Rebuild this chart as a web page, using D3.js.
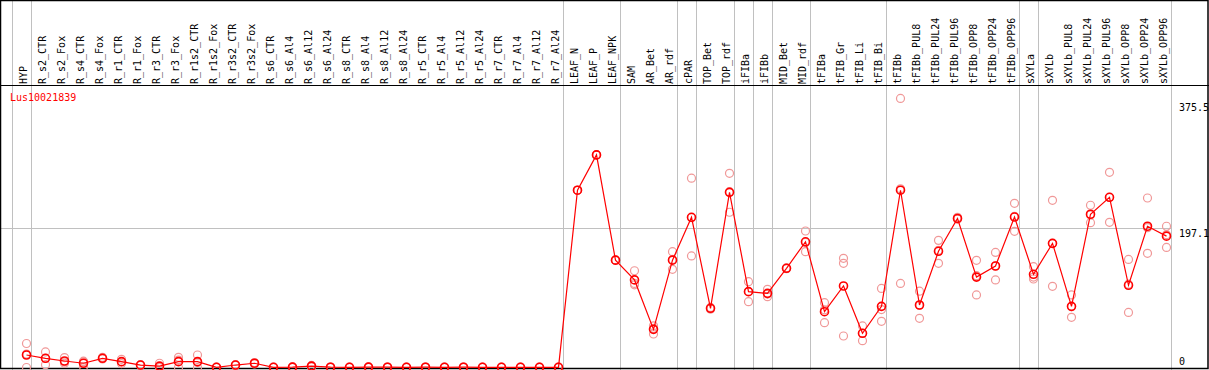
<!DOCTYPE html>
<html>
<head>
<meta charset="utf-8">
<script src="https://cdn.jsdelivr.net/npm/d3@7"></script>
<style>
  html, body { margin: 0; padding: 0; background: #fff; }
  svg { display: block; }
  text { font-family: "DejaVu Sans Mono", monospace; font-size: 10px; }
</style>
</head>
<body>
<div id="chart"></div>
<script>
const geneId = "Lus10021839";

const samples = [
  "HYP",
  "R_s2_CTR", "R_s2_Fox", "R_s4_CTR", "R_s4_Fox", "R_r1_CTR", "R_r1_Fox", "R_r3_CTR", "R_r3_Fox",
  "R_r1s2_CTR", "R_r1s2_Fox", "R_r3s2_CTR", "R_r3s2_Fox",
  "R_s6_CTR", "R_s6_Al4", "R_s6_Al12", "R_s6_Al24", "R_s8_CTR", "R_s8_Al4", "R_s8_Al12", "R_s8_Al24",
  "R_r5_CTR", "R_r5_Al4", "R_r5_Al12", "R_r5_Al24", "R_r7_CTR", "R_r7_Al4", "R_r7_Al12", "R_r7_Al24",
  "LEAF_N", "LEAF_P", "LEAF_NPK",
  "SAM", "AR_Bet", "AR_rdf", "cPAR", "TOP_Bet", "TOP_rdf", "iFIBa", "iFIBb", "MID_Bet", "MID_rdf",
  "tFIBa", "tFIB_Gr", "tFIB_Li", "tFIB_Bi",
  "tFIBb", "tFIBb_PUL8", "tFIBb_PUL24", "tFIBb_PUL96", "tFIBb_OPP8", "tFIBb_OPP24", "tFIBb_OPP96",
  "sXYLa", "sXYLb", "sXYLb_PUL8", "sXYLb_PUL24", "sXYLb_PUL96", "sXYLb_OPP8", "sXYLb_OPP24", "sXYLb_OPP96"
];

// mean expression per sample
const means = [
  17.7,
  13, 9.2, 6, 13, 8.3, 3.5, 2, 8.3,
  8.3, 0.3, 3.5, 6,
  0.3, 0.5, 2, 0.4, 0.3, 0.5, 0.4, 0.3,
  0.4, 0.3, 0.4, 0.3, 0.3, 0.3, 0.3, 0.3,
  251, 301, 152,
  124, 54, 152, 212.7, 83.8, 248, 107.4, 105, 140.5, 178,
  79, 115.4, 48.4, 86.6,
  251, 88.5, 164.5, 211, 128, 143.7, 213,
  132, 175.8, 86.6, 217, 241, 116.4, 200, 186
];

// replicate values
const reps = [
  [34, 19, 0],
  [22, 13, 4], [14, 8, 6], [9, 8, 1], [14.4, 13, 12], [11.6, 8, 5.5], [4, 3.5, 3], [6, 0, 0], [14.4, 10.5, 0],
  [17.7, 7, 0], [0.5, 0.3, 0], [4, 3.5, 3], [7, 6, 5],
  [0.5, 0.3, 0], [0.8, 0.5, 0.2], [3, 2, 1], [0.5, 0.4, 0.2], [0.4, 0.3, 0.2], [0.6, 0.5, 0.4], [0.5, 0.4, 0.3], [0.4, 0.3, 0.2],
  [0.5, 0.4, 0.3], [0.4, 0.3, 0.2], [0.5, 0.4, 0.3], [0.4, 0.3, 0.2], [0.4, 0.3, 0.2], [0.4, 0.3, 0.2], [0.4, 0.3, 0.2], [0.4, 0.3, 0.2],
  [251, 251, 251], [301, 301, 301], [152, 152, 152],
  [137, 119, 117], [59, 55.6, 47.4], [164, 153, 139], [268, 212, 158], [85, 83, 83], [275, 249, 219.8],
  [121.5, 107.5, 93.2], [110.7, 104, 100.3], [141, 140.5, 140], [193.3, 177, 164],
  [91.8, 81.7, 63.5], [154.6, 147.5, 44.6], [58.8, 48.4, 38], [112, 82, 65.4],
  [381, 253, 119], [108, 88, 69.6], [180, 166, 147.5], [212.6, 211, 210], [151.7, 130, 102.7], [163, 144, 124], [232.5, 214, 192.8],
  [142.8, 128, 125.3], [236.7, 175.7, 115], [102.7, 86, 71], [229.7, 216, 205], [276.4, 241, 205.6], [153, 118, 78], [240, 198, 161.7], [200, 188, 170]
];

// index of the first sample of each group (plus the end)
const groupBreaks = [0, 1, 29, 32, 35, 36, 38, 39, 40, 42, 46, 53, 54, 61];

const axisTicks = [375.5, 197.1, 0];

const width = 1209, height = 370;
const headerBottom = 85.5;

const x = d3.scalePoint().domain(samples).range([26.5, 1166.5]);
const step = x.step();
const y = d3.scaleLinear().domain([0, 375.5]).range([367.5, 102.3]);

const svg = d3.select("#chart").append("svg")
    .attr("width", width)
    .attr("height", height);

// group separators
svg.append("g")
    .selectAll("line")
    .data(groupBreaks)
    .enter().append("line")
    .attr("x1", d => Math.round(x(samples[0]) + d * step - 15) + 0.5)
    .attr("x2", d => Math.round(x(samples[0]) + d * step - 15) + 0.5)
    .attr("y1", 0)
    .attr("y2", height)
    .attr("stroke", "#c0c0c0")
    .attr("stroke-width", 1);

// mid gridline
svg.append("line")
    .attr("x1", 0)
    .attr("x2", Math.round(x(samples[0]) + 61 * step - 15) + 0.5)
    .attr("y1", Math.round(y(197.1)) + 0.5)
    .attr("y2", Math.round(y(197.1)) + 0.5)
    .attr("stroke", "#c0c0c0");

// borders
svg.append("rect")
    .attr("x", 0.5).attr("y", 0.5)
    .attr("width", width - 1.5).attr("height", height - 2)
    .attr("fill", "none").attr("stroke", "#000").attr("stroke-width", 1.5);
svg.append("line")
    .attr("x1", 0).attr("x2", width)
    .attr("y1", headerBottom).attr("y2", headerBottom)
    .attr("stroke", "#000");

// replicate points
const repData = [];
reps.forEach((r, i) => r.forEach(v => repData.push({s: samples[i], v: v})));
svg.append("g")
    .selectAll("circle")
    .data(repData)
    .enter().append("circle")
    .attr("cx", d => x(d.s))
    .attr("cy", d => y(d.v))
    .attr("r", 4)
    .attr("fill", "none")
    .attr("stroke", "#f09898")
    .attr("stroke-width", 1.2);

// mean line
const line = d3.line()
    .x((d, i) => x(samples[i]))
    .y(d => y(d));
svg.append("path")
    .datum(means)
    .attr("d", line)
    .attr("fill", "none")
    .attr("stroke", "#ff0000")
    .attr("stroke-width", 1.2);

// mean points
svg.append("g")
    .selectAll("circle")
    .data(means)
    .enter().append("circle")
    .attr("cx", (d, i) => x(samples[i]))
    .attr("cy", d => y(d))
    .attr("r", 4)
    .attr("fill", "none")
    .attr("stroke", "#ff0000")
    .attr("stroke-width", 1.6);

// sample labels
svg.append("g")
    .selectAll("text")
    .data(samples)
    .enter().append("text")
    .attr("transform", d => "translate(" + (x(d) + 0.5) + "," + (headerBottom - 1.5) + ")rotate(-90)")
    .attr("fill", "#000")
    .text(d => d);

// gene id
svg.append("text")
    .attr("x", 10)
    .attr("y", 101)
    .attr("fill", "#ff0000")
    .text(geneId);

// right-hand value labels
svg.append("g")
    .selectAll("text")
    .data(axisTicks)
    .enter().append("text")
    .attr("x", 1179)
    .attr("y", d => d === 0 ? 365 : y(d) + 8.5)
    .attr("fill", "#000")
    .text(d => d);
</script>
</body>
</html>
